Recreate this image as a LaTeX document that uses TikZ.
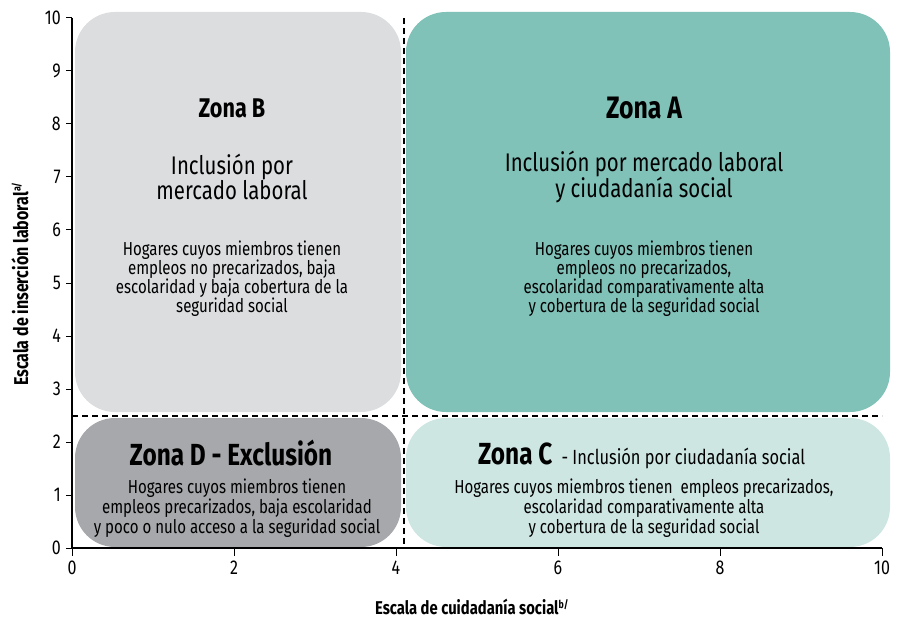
\documentclass[tikz,border=0pt]{standalone}
\usepackage{fontspec}
\setmainfont[FakeStretch=0.8]{Fira Sans}
\definecolor{zoneBc}{HTML}{DCDDDF}
\definecolor{zoneAc}{HTML}{80C1B8}
\definecolor{zoneDc}{HTML}{A7A8AB}
\definecolor{zoneCc}{HTML}{CDE6E2}
\tikzset{
  zone/.style={draw=none, rounded corners=40pt, inner sep=0pt},
  divline/.style={line width=1.1pt, dash pattern=on 6pt off 4pt},
  axisline/.style={line width=1.3pt},
  tickline/.style={line width=1pt},
  ticklab/.style={font=\fontsize{20}{20}\selectfont, inner sep=1pt},
  ztitle/.style={font=\fontsize{27}{27}\selectfont\bfseries, align=center},
  zsub/.style={font=\fontsize{25.5}{25}\selectfont, align=center},
  zbody/.style={font=\fontsize{18.8}{19}\selectfont, align=center},
  axlab/.style={font=\fontsize{18.5}{18}\selectfont\bfseries}
}
\begin{document}
\begin{tikzpicture}[x=1pt,y=-1pt]
\useasboundingbox (0,0) rectangle (899,620);
% zones
\node[zone, fill=zoneBc, minimum width=326pt, minimum height=400pt] (zB) at (238,212) {};
\node[zone, fill=zoneAc, minimum width=484pt, minimum height=400pt] (zA) at (648,212) {};
\node[zone, fill=zoneDc, minimum width=326pt, minimum height=129pt] (zD) at (238,482.5) {};
\node[zone, fill=zoneCc, minimum width=484pt, minimum height=129pt] (zC) at (648,482.5) {};
% axes coordinates
\coordinate (O) at (72,548);
\coordinate (Xe) at (882,548);
\coordinate (Ye) at (72,18);
\coordinate (Vt) at (404,18);
\coordinate (Vb) at (404,548);
\coordinate (Hl) at (72,416);
\coordinate (Hr) at (882,416);
% dividers
\draw[divline] (Vt) -- (Vb);
\draw[divline] (Hl) -- (Hr);
% axes
\draw[axisline] (Ye) -- (O) -- (Xe);
\foreach \i in {0,...,10}{
  \draw[tickline] (66,548-53*\i) -- (72,548-53*\i);
  \node[ticklab, anchor=east] (yt\i) at (62,548-53*\i) {\i};
}
\foreach \i in {0,2,4,6,8,10}{
  \draw[tickline] (72+81*\i,548) -- (72+81*\i,556);
  \node[ticklab, anchor=north] (xt\i) at (72+81*\i,560) {\i};
}
\node[axlab] (xlab) at (472,607) {Escala de cuidadanía social\textsuperscript{\fontsize{11}{11}\selectfont b/}};
\node[axlab, font=\fontsize{20}{20}\selectfont\bfseries, rotate=90] (ylab) at (20,284) {Escala de inserción laboral\textsuperscript{\fontsize{11}{11}\selectfont a/}};
% Zone B
\node[ztitle] (tB) at (232,108) {Zona B};
\node[zsub] (sB) at (232,177) {Inclusión por\\mercado laboral};
\node[zbody] (bB) at (232,279) {Hogares cuyos miembros tienen\\empleos no precarizados, baja\\escolaridad y baja cobertura de la\\seguridad social};
% Zone A
\node[ztitle, font=\fontsize{31}{31}\selectfont\bfseries] (tA) at (644,108) {Zona A};
\node[zsub] (sA) at (644,177) {Inclusión por mercado laboral\\y ciudadanía social};
\node[zbody] (bA) at (644,279) {Hogares cuyos miembros tienen\\empleos no precarizados,\\escolaridad comparativamente alta\\y cobertura de la seguridad social};
% Zone D
\node[ztitle, font=\fontsize{30.5}{30}\selectfont\bfseries] (tD) at (231,453) {Zona D - Exclusión};
\node[zbody, font=\fontsize{18.8}{18.5}\selectfont] (bD) at (237,508) {Hogares cuyos miembros tienen\\empleos precarizados, baja escolaridad\\y poco o nulo acceso a la seguridad social};
% Zone C
\node[ztitle, font=\fontsize{30.5}{30}\selectfont\bfseries, anchor=base east] (tC) at (556,464) {Zona C};
\node[font=\fontsize{20.5}{20}\selectfont, anchor=base west] (sC) at (558,464) {- Inclusión por ciudadanía social};
\node[zbody, font=\fontsize{18.8}{18.5}\selectfont] (bC) at (644,508) {Hogares cuyos miembros tienen\ \ empleos precarizados,\\escolaridad comparativamente alta\\y cobertura de la seguridad social};
\end{tikzpicture}
\end{document}
